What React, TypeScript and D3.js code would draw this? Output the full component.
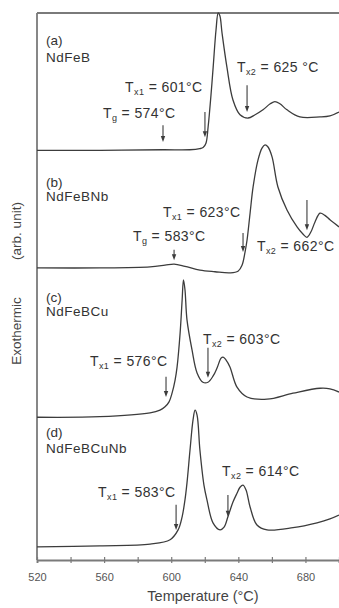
import React, { useRef, useEffect } from 'react';
import * as d3 from 'd3';

// DSC traces, temperature (°C) vs exothermic signal (arb. unit)
const tempA = [520, 557.5, 595, 611, 617, 619, 620.7, 622, 623.7, 625, 626.7, 628, 629, 630.3, 633.2, 636.8, 641, 645.8, 650, 654.7, 659, 661.8, 664.8, 669, 676.7, 688.7, 694.6, 700];
const sigA = [74.9, 74.9, 75.0, 75.0, 75.2, 75.4, 76.2, 79.2, 85.0, 90.1, 96.9, 100, 99.5, 96.3, 90.1, 84.1, 81.4, 80.8, 81.4, 82.3, 83.4, 83.8, 83.4, 82.3, 81.0, 81.0, 81.2, 81.9];

const tempB = [520, 557.5, 587.4, 596.3, 601.7, 608.2, 617.1, 626.1, 635.0, 639.8, 642.2, 644.0, 645.2, 647.0, 648.8, 651.7, 654.1, 655.9, 657.7, 660.1, 663.6, 669.0, 675.0, 678.5, 680.9, 683.3, 685.7, 688.7, 691.6, 694.6, 700];
const sigB = [53.4, 53.4, 53.6, 53.9, 54.1, 53.7, 53.0, 52.7, 52.5, 52.8, 53.9, 56.3, 58.5, 63.4, 68.2, 73.1, 75.3, 75.9, 75.5, 73.7, 68.2, 64.0, 60.9, 59.6, 59.0, 60.0, 61.8, 63.4, 63.0, 62.2, 60.9];

const tempC = [520, 557.5, 587.4, 593.3, 596.3, 598.7, 600.5, 602.3, 603.5, 605.3, 606.5, 607.3, 608.2, 609.4, 612.4, 615.4, 618.9, 621.9, 624.9, 627.3, 629.7, 630.9, 632.6, 635.0, 639.2, 645.2, 657.1, 672.6, 688.7, 694.6, 700];
const sigC = [26.1, 26.2, 26.9, 27.4, 28.0, 28.9, 30.5, 32.9, 35.3, 41.5, 47.5, 51.2, 49.4, 43.9, 38.4, 34.2, 32.5, 32.5, 33.6, 35.1, 36.9, 37.1, 36.6, 35.3, 31.6, 29.8, 29.4, 30.5, 31.4, 31.3, 30.7];

const tempD = [520, 557.5, 587.4, 599.3, 604.1, 606.5, 608.2, 609.4, 611.2, 613.0, 614.2, 615.4, 617.1, 619.5, 621.3, 624.9, 629.1, 631.5, 633.8, 636.8, 639.2, 641.0, 642.8, 644.6, 647.0, 651.1, 657.1, 672.6, 686.9, 694.6, 700];
const sigD = [2.4, 2.6, 2.9, 3.7, 5.5, 7.9, 11.0, 14.1, 20.1, 25.6, 27.4, 26.5, 20.1, 13.7, 11.0, 6.8, 5.5, 6.0, 7.9, 10.6, 12.2, 13.3, 13.7, 12.8, 9.7, 6.4, 5.5, 5.9, 6.8, 7.5, 8.2];

const panelLetter = ['(a)', '(b)', '(c)', '(d)'];
const panelAlloy = ['NdFeB', 'NdFeBNb', 'NdFeBCu', 'NdFeBCuNb'];
const panelLetterY = [45, 187, 302, 437];
const panelAlloyY = [62, 201, 316, 453];

const xTicks = d3.range(520, 701, 20);
const xLabels = [520, 560, 600, 640, 680];

// annotations: subscript, value, text position, arrow
const annSub = ['g', 'x1', 'x2', 'g', 'x1', 'x2', 'x1', 'x2', 'x1', 'x2'];
const annValue = ['574°C', '601°C', '625 °C', '583°C', '623°C', '662°C', '576°C', '603°C', '583°C', '614°C'];
const annTemp = [559.3, 572.5, 639.2, 577.2, 595.1, 651.1, 551.6, 618.9, 556.4, 630.3];
const annSig = [80.8, 85.6, 89.2, 58.3, 62.7, 56.5, 35.5, 39.5, 11.5, 15.4];
const arrowTemp = [595.1, 620.1, 645.2, 601.7, 642.8, 680.9, 596.9, 621.9, 602.9, 633.8];
const arrowFrom = [79.5, 81.9, 86.8, 56.7, 59.8, 65.8, 33.5, 38.8, 10.1, 11.9];
const arrowTo = [76.4, 77.3, 81.9, 54.8, 56.3, 60.3, 29.8, 33.3, 5.5, 7.9];

const FONT = '"Liberation Sans", Arial, sans-serif';

const App: React.FC = () => {
  const svgRef = useRef<SVGSVGElement | null>(null);

  useEffect(() => {
    const svg = d3.select(svgRef.current);
    svg.selectAll('*').remove();

    const x = d3.scaleLinear().domain([520, 700]).range([37, 339]);
    const y = d3.scaleLinear().domain([0, 100]).range([560, 13]);

    const ink = '#3c3c3c';
    const frame = '#7a7a7a';

    // frame: left and top
    svg.append('line')
      .attr('x1', x(520)).attr('x2', x(520))
      .attr('y1', y(100)).attr('y2', y(0))
      .attr('stroke', frame).attr('stroke-width', 1.8);
    svg.append('line')
      .attr('x1', x(520)).attr('x2', x(700))
      .attr('y1', y(100)).attr('y2', y(100))
      .attr('stroke', frame).attr('stroke-width', 1.8);

    // x axis
    const axis = svg.append('g')
      .attr('transform', `translate(0,${y(0)})`)
      .call(d3.axisBottom(x)
        .tickValues(xTicks)
        .tickSize(3)
        .tickFormat((d: any) => (xLabels.includes(d) ? String(d) : '')));
    axis.select('.domain').attr('stroke', frame).attr('stroke-width', 1.8);
    axis.selectAll('.tick line')
      .attr('y1', -3).attr('y2', 3)
      .attr('stroke', frame).attr('stroke-width', 1.2);
    axis.selectAll('.tick text')
      .attr('y', 21).attr('dy', 0)
      .attr('fill', '#555')
      .style('font-family', FONT)
      .style('font-size', '11px');

    svg.append('text')
      .attr('x', 203).attr('y', 601)
      .attr('text-anchor', 'middle')
      .attr('fill', '#444')
      .style('font-family', FONT)
      .style('font-size', '14.5px')
      .text('Temperature (°C)');

    // y title
    const yt = svg.append('g').attr('transform', 'translate(21,0) rotate(-90)');
    yt.append('text')
      .attr('x', -331).attr('y', 0)
      .attr('text-anchor', 'middle')
      .attr('fill', '#444')
      .style('font-family', FONT)
      .style('font-size', '13.5px')
      .text('Exothermic');
    yt.append('text')
      .attr('x', -231).attr('y', 0)
      .attr('text-anchor', 'middle')
      .attr('fill', '#444')
      .style('font-family', FONT)
      .style('font-size', '13.5px')
      .text('(arb. unit)');

    // curves
    const temps = [tempA, tempB, tempC, tempD];
    const sigs = [sigA, sigB, sigC, sigD];
    const line = d3.line<[number, number]>()
      .x(d => x(d[0]))
      .y(d => y(d[1]))
      .curve(d3.curveCatmullRom.alpha(0.5));
    temps.forEach((t, i) => {
      const pts = t.map((v, j) => [v, sigs[i][j]] as [number, number]);
      svg.append('path')
        .attr('d', line(pts) || '')
        .attr('fill', 'none')
        .attr('stroke', ink)
        .attr('stroke-width', 1.3);
    });

    // panel labels
    panelLetter.forEach((p, i) => {
      svg.append('text')
        .attr('x', 46).attr('y', panelLetterY[i])
        .attr('fill', '#333')
        .style('font-family', FONT)
        .style('font-size', '13.5px')
        .text(p);
      svg.append('text')
        .attr('x', 46).attr('y', panelAlloyY[i])
        .attr('fill', '#333')
        .style('font-family', FONT)
        .style('font-size', '13.5px')
        .style('letter-spacing', '0.5px')
        .text(panelAlloy[i]);
    });

    // annotations
    annSub.forEach((s, i) => {
      const t = svg.append('text')
        .attr('x', x(annTemp[i])).attr('y', y(annSig[i]))
        .attr('fill', '#333')
        .style('font-family', FONT)
        .style('font-size', '14px')
        .style('letter-spacing', '0.4px');
      t.append('tspan').text('T');
      t.append('tspan').attr('dy', 3).style('font-size', '9px').text(s);
      t.append('tspan').attr('dy', -3).text(' = ' + annValue[i]);

      const ax = x(arrowTemp[i]);
      const y0 = y(arrowFrom[i]);
      const y1 = y(arrowTo[i]);
      svg.append('line')
        .attr('x1', ax).attr('x2', ax)
        .attr('y1', y0).attr('y2', y1 - 4)
        .attr('stroke', ink).attr('stroke-width', 1.1);
      svg.append('path')
        .attr('d', `M${ax - 2.2},${y1 - 6}L${ax + 2.2},${y1 - 6}L${ax},${y1}Z`)
        .attr('fill', ink);
    });
  }, []);

  return (
    <svg
      ref={svgRef}
      width={339}
      height={608}
      style={{ position: 'absolute', left: 0, top: 0, background: '#fff' }}
    />
  );
};

export default App;
